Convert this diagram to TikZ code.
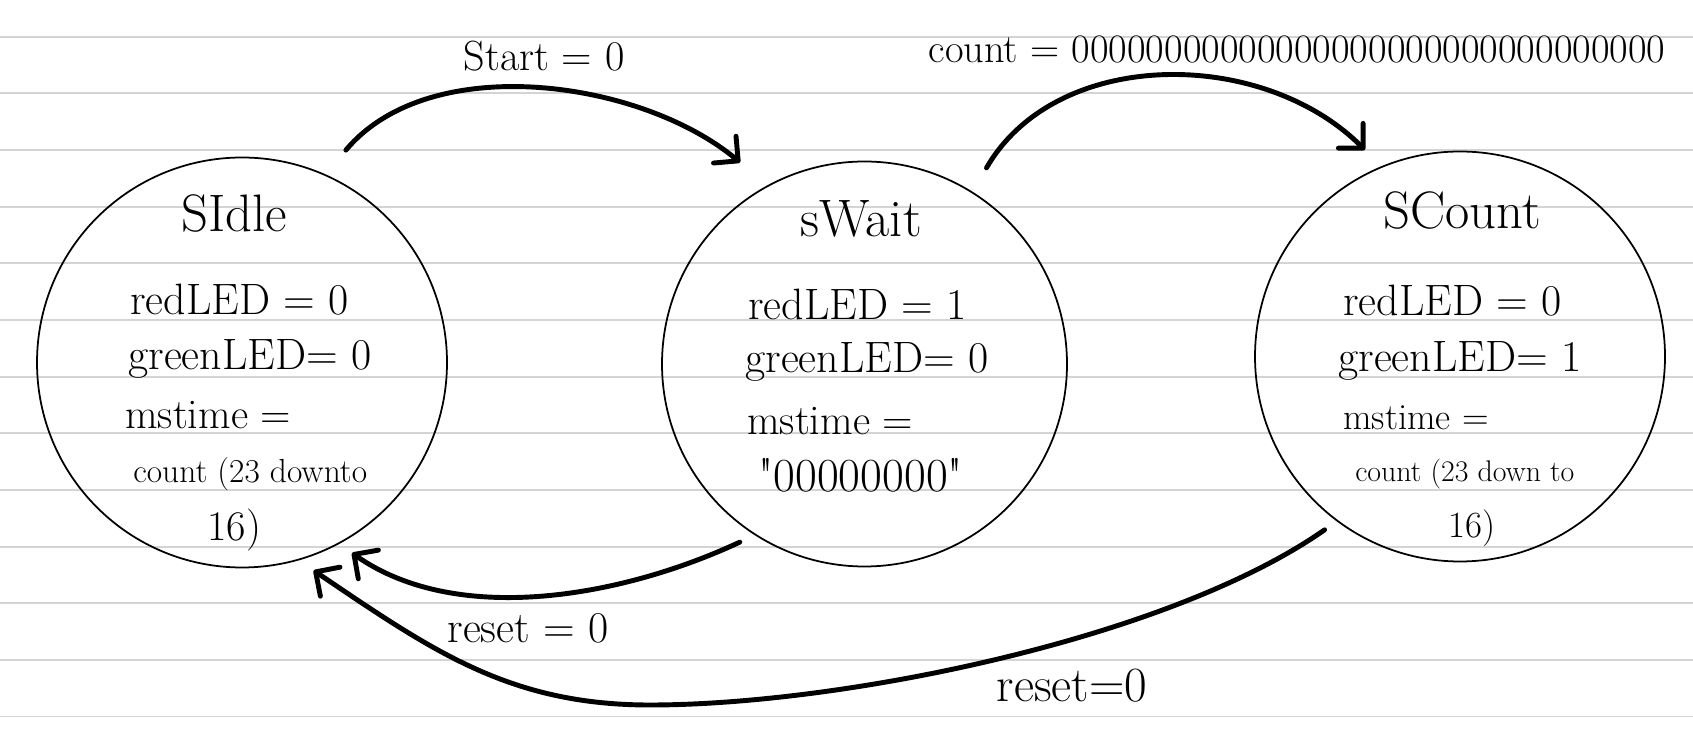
\documentclass[tikz,border=0pt]{standalone}
\usepackage{fontspec}
\newfontfamily\plainlm{Latin Modern Roman}
\usetikzlibrary{arrows.meta}

\tikzset{
  stateball/.style={draw, circle, line width=1pt, minimum size=8.2cm, inner sep=0pt, outer sep=0.3cm},
  edgeline/.style={line width=2.8pt, line cap=round, -{Straight Barb[length=0.35cm, width=0.7cm, round]}},
  paperline/.style={draw=black!17, line width=1.1pt},
  body/.style={anchor=base west, inner sep=0pt, font=\fontsize{25}{30}\selectfont},
  statename/.style={inner sep=0pt, font=\fontsize{30}{36}\selectfont},
  edgelabel/.style={inner sep=0pt, font=\fontsize{24}{28}\selectfont},
}

\begin{document}
\begin{tikzpicture}
	\path[use as bounding box, fill=white] (0,0) rectangle (33.86,14.98);

	% ruled paper
	\foreach \k in {0,...,12}
		\draw[paperline] (0,{14.246-1.133*\k}) -- (33.86,{14.246-1.133*\k});

	% states
	\node[stateball] (idle) at (4.84,7.73) {};
	\node[stateball, minimum size=8.1cm] (wait) at (17.29,7.70) {};
	\node[stateball] (count) at (29.20,7.85) {};

	\node[statename] (idleName) at (4.68,10.70) {SIdle};
	\node[body] (idleRed) at (2.60,8.68) {redLED = 0};
	\node[body] (idleGreen) at (2.56,7.58) {greenLED= 0};
	\node[body, font=\fontsize{24}{28}\selectfont] (idleMs) at (2.50,6.40) {mstime =};
	\node[body, font=\fontsize{19}{23}\selectfont] (idleCnt) at (2.66,5.32) {count (23 downto};
	\node[body, font=\fontsize{24}{28}\selectfont] (idleBits) at (4.14,4.16) {16)};

	\node[statename] (waitName) at (17.22,10.60) {sWait};
	\node[body] (waitRed) at (14.96,8.58) {redLED = 1};
	\node[body] (waitGreen) at (14.90,7.52) {greenLED= 0};
	\node[body, font=\fontsize{24}{28}\selectfont] (waitMs) at (14.94,6.28) {mstime =};
	\node[body, font=\fontsize{27}{32}\selectfont\plainlm] (waitZero) at (15.16,5.14) {"00000000"};

	\node[statename] (countName) at (29.24,10.76) {SCount};
	\node[body] (countRed) at (26.86,8.66) {redLED = 0};
	\node[body] (countGreen) at (26.76,7.54) {greenLED= 1};
	\node[body, font=\fontsize{21}{25}\selectfont] (countMs) at (26.86,6.38) {mstime =};
	\node[body, font=\fontsize{17}{21}\selectfont] (countCnt) at (27.10,5.34) {count (23 down to};
	\node[body, font=\fontsize{21}{25}\selectfont] (countBits) at (28.96,4.22) {16)};

	% transitions
	\coordinate (low) at (13.0,0.88);
	\draw[edgeline, shorten <=0.34cm, shorten >=0.41cm] (idle.65) to[out=50, in=140, looseness=0.9] (wait.120);
	\draw[edgeline, shorten <=0.27cm, shorten >=0.16cm] (wait.58) to[out=60, in=135] (count.114);
	\draw[edgeline] (wait.235) to[out=205, in=325, looseness=0.85] (idle.300);
	\draw[edgeline] (count.232) to[out=215, in=0, looseness=0.7] (low) to[out=180, in=326] (idle.289);

	\node[edgelabel] (startLbl) at (10.88,13.86) {Start = 0};
	\node[edgelabel, font=\fontsize{23}{27}\selectfont] (countLbl) at (25.94,14.0) {count = 00000000000000000000000000000000};
	\node[edgelabel, font=\fontsize{25}{30}\selectfont] (resetWait) at (10.56,2.42) {reset = 0};
	\node[edgelabel, font=\fontsize{28}{32}\selectfont] (resetCount) at (21.44,1.26) {reset=0};
\end{tikzpicture}
\end{document}
